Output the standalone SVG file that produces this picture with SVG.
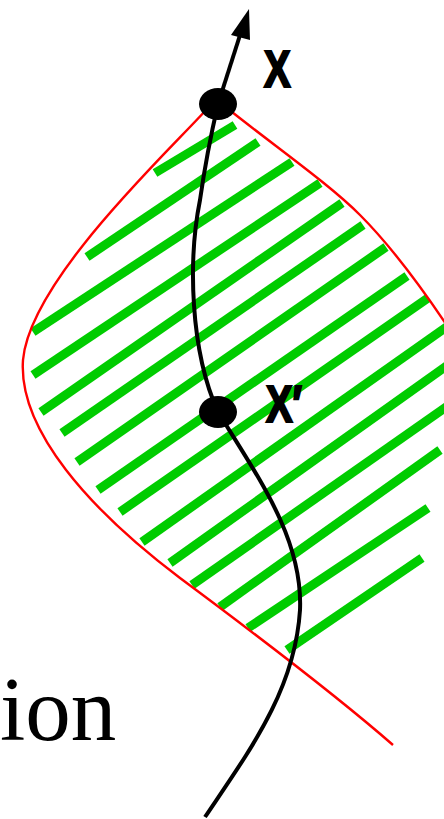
<svg xmlns="http://www.w3.org/2000/svg" width="444" height="819" viewBox="0 0 444 819">
<style>
.hatch line{stroke:#00cc00;stroke-width:9;stroke-linecap:butt}
.red{fill:none;stroke:#ff0000;stroke-width:2.4}
.curve{fill:none;stroke:#000;stroke-width:4}
.lbl{font-family:"Liberation Sans",Arial,sans-serif;font-weight:bold;font-size:51px;fill:#000;stroke:#000;stroke-width:2.2;stroke-linejoin:miter}
</style>
<rect width="444" height="819" fill="#fff"/>
<g id="hatch" class="hatch">
<line x1="155" y1="173" x2="235" y2="125"/>
<line x1="87" y1="257" x2="258" y2="142"/>
<line x1="33" y1="332" x2="292" y2="162"/>
<line x1="33" y1="375" x2="320" y2="183"/>
<line x1="41" y1="412" x2="342" y2="203"/>
<line x1="62" y1="433" x2="363" y2="225"/>
<line x1="77" y1="462" x2="386" y2="247"/>
<line x1="98" y1="490" x2="407" y2="276"/>
<line x1="120" y1="512" x2="428" y2="298"/>
<line x1="142" y1="542" x2="452" y2="323"/>
<line x1="170" y1="563" x2="452" y2="362"/>
<line x1="192" y1="585" x2="452" y2="403"/>
<line x1="220" y1="607" x2="440" y2="450"/>
<line x1="248" y1="628" x2="428" y2="508"/>
<line x1="287" y1="650" x2="422" y2="558"/>
</g>
<g id="region">
<path class="red" d="M206,110 C170,150 30,280 23,360 C18,430 90,510 180,578 C250,630 330,690 393,745"/>
<path class="red" d="M232,112 C280,150 330,185 360,215 S420,285 450,330"/>
</g>
<g id="connectors">
<path class="curve" d="M205,817 C250,750 295,690 300,610 C303,540 260,480 218,412 C190,350 188,260 200,200 C205,165 212,130 218,104"/>
<line x1="218" y1="104" x2="241" y2="32" stroke="#000" stroke-width="4"/>
<polygon points="249,9 250,40 231,35" fill="#000"/>
</g>
<g id="node-x">
<ellipse cx="218" cy="104" rx="19" ry="16" fill="#000"/>
<text class="lbl" transform="translate(264,87) scale(0.78,1)">X</text>
</g>
<g id="node-xprime">
<ellipse cx="218" cy="412" rx="19" ry="16" fill="#000"/>
<text class="lbl" transform="translate(266,422) scale(0.78,1)">X′</text>
</g>
<text x="0" y="740" font-family="'Liberation Serif','Times New Roman',serif" font-size="91" fill="#000">ion</text>
</svg>
